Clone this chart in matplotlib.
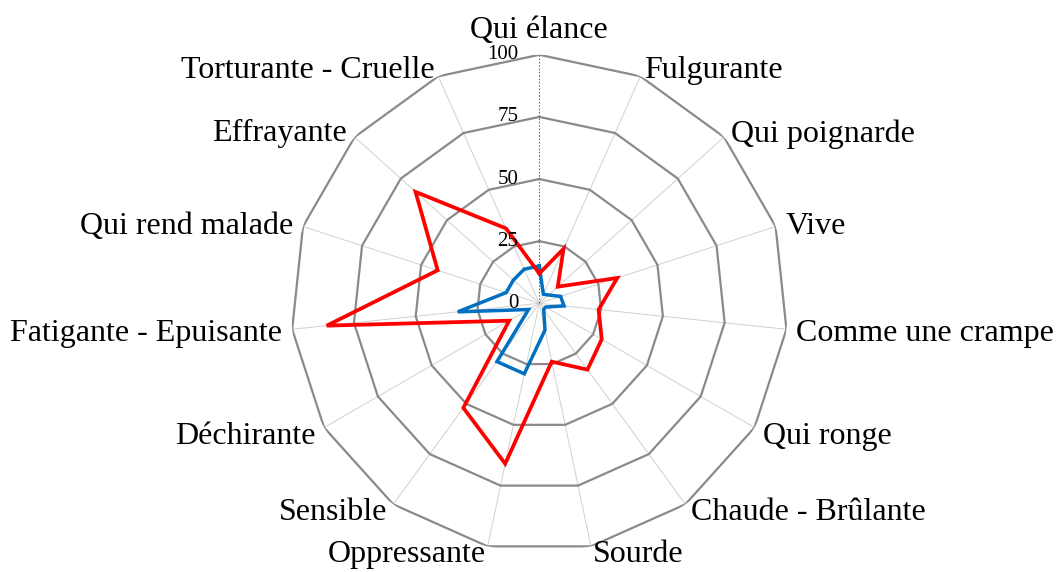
import numpy as np
import matplotlib
matplotlib.use("Agg")
import matplotlib.pyplot as plt

categories = ["Qui élance", "Fulgurante", "Qui poignarde", "Vive", "Comme une crampe",
              "Qui ronge", "Chaude - Brûlante", "Sourde", "Oppressante", "Sensible",
              "Déchirante", "Fatigante - Epuisante", "Qui rend malade", "Effrayante",
              "Torturante - Cruelle"]
red_values = [12, 24, 10, 33, 24, 29, 33, 24, 66, 52, 14, 86, 43, 67, 33]
blue_values = [15, 4, 5, 9, 10, 3, 3, 11, 29, 29, 5, 33, 14, 14, 15]
grid_levels = [25, 50, 75, 100]
tick_values = [0, 25, 50, 75, 100]
tick_labels = ["0", "25", "50", "75", "100"]

plt.rcParams['font.family'] = ['Liberation Serif', 'DejaVu Serif']

W, H = 1057, 572
fig = plt.figure(figsize=(W / 100, H / 100), dpi=100)
cx, cy, R = 539.3, 268.7, 248.5
ax = fig.add_axes([(cx - R) / W, (cy - R) / H, 2 * R / W, 2 * R / H], projection='polar')
ax.set_theta_zero_location('N')
ax.set_theta_direction(-1)
ax.set_ylim(0, 100)
ax.axis('off')

n = len(categories)
theta = np.arange(n) * 2 * np.pi / n
theta_c = np.append(theta, theta[0])

# spokes
for i, t in enumerate(theta):
    if i == 0:
        continue
    ax.plot([t, t], [0, 100], color='#d0d0d0', lw=0.7, zorder=1)
# polygon gridlines
for lv in grid_levels:
    ax.plot(theta_c, [lv] * (n + 1), color='#8a8a8a', lw=1.6, zorder=2)
# value axis
ax.plot([0, 0], [0, 100], color='#6e6e6e', lw=0.8, ls=(0, (1.5, 1.5)), zorder=3)

# series
ax.plot(theta_c, np.append(red_values, red_values[0]), color='#ff0000', lw=2.7,
        solid_joinstyle='miter', zorder=5, clip_on=False)
ax.plot(theta_c, np.append(blue_values, blue_values[0]), color='#0070c0', lw=2.5,
        solid_joinstyle='miter', zorder=4, clip_on=False)

# tick labels
for v, s in zip(tick_values, tick_labels):
    ax.annotate(s, xy=(0, v), xytext=(-21, 0), textcoords='offset pixels',
                ha='right', va='center', fontsize=15, zorder=6)

# category labels
for t, lab in zip(theta, categories):
    s, c = np.sin(t), np.cos(t)
    ha = 'left' if s > 0.05 else ('right' if s < -0.05 else 'center')
    va = 'center'
    dy = max(10 * c - 3.5, -8.5)
    if abs(s) <= 0.05:
        va = 'bottom' if c > 0 else 'top'
        dy = 10 * c
    ax.annotate(lab, xy=(t, 100), xytext=(10 * s, dy), textcoords='offset pixels',
                ha=ha, va=va, fontsize=23, annotation_clip=False)

fig.savefig('out.png', dpi=100, facecolor='white')
